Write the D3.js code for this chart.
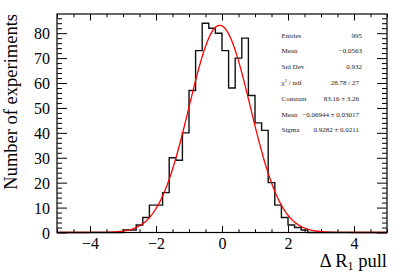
<!DOCTYPE html>
<html>
<head>
<meta charset="utf-8">
<script src="https://cdn.jsdelivr.net/npm/d3@7"></script>
<style>
  body { margin: 0; background: #fff; }
</style>
</head>
<body>
<script>
// histogram: 50 bins of width 0.2 between -5 and 5
var binLow = -5, binWidth = 0.2;
var counts = [0,0,0,0,0, 0,0,0,0,0,
              1,1,3,6,11, 11,16,30,29,40,
              57,73,84,82,80, 73,58,70,78,55,
              44,41,20,11,6, 3,2,1,0,0,
              0,0,0,0,0, 0,0,0,0,0];

// gaussian fit parameters (from the stats box)
var fitConstant = 83.16, fitMean = -0.06944, fitSigma = 0.9282;

var xMajor = [-4, -2, 0, 2, 4];
var yMajor = [0, 10, 20, 30, 40, 50, 60, 70, 80];

var statLabels = ["Entries", "Mean", "Std Dev", "chi", "Constant", "Mean", "Sigma"];
var statValues = ["995", "\u22120.0563", "0.932", "28.78 / 27", "83.16 \u00b1 3.26",
                  "\u22120.06944 \u00b1 0.03017", "0.9282 \u00b1 0.0211"];

var W = 407, H = 277;
var frame = {left: 57, right: 387, top: 14, bottom: 232.5};
var serif = "'Liberation Serif', 'Times New Roman', Times, 'DejaVu Serif', serif";

var svg = d3.select("body").append("svg")
  .attr("width", W).attr("height", H)
  .attr("font-family", serif)
  .style("font-family", serif);

var x = d3.scaleLinear().domain([-5, 5]).range([frame.left, frame.right]);
var y = d3.scaleLinear().domain([0, 87.7]).range([frame.bottom, frame.top]);

var fmt = function(d){ return d < 0 ? "\u2212" + Math.abs(d) : String(d); };

// minor ticks
var xMinor = d3.range(-5, 5.001, 0.5).filter(function(d){ return d % 2 !== 0; });
var yMinor = d3.range(0, 87, 2).filter(function(d){ return d % 10 !== 0; });

function tickAxis(axis, transform) {
  var g = svg.append("g").attr("transform", transform).call(axis);
  g.attr("font-family", null);
  g.select(".domain").remove();
  g.selectAll("line").attr("stroke", "#000").attr("stroke-width", 1);
  return g;
}

// bottom
var gx = tickAxis(d3.axisBottom(x).tickValues(xMajor).tickSize(-6.5).tickFormat(fmt),
  "translate(0," + frame.bottom + ")");
gx.selectAll("text").attr("y", 16.5).attr("dy", null)
  .attr("font-size", 16).attr("fill", "#000");
tickAxis(d3.axisBottom(x).tickValues(xMinor).tickSize(-3.3).tickFormat(""),
  "translate(0," + frame.bottom + ")");
// top
tickAxis(d3.axisTop(x).tickValues(xMajor).tickSize(-6.5).tickFormat(""),
  "translate(0," + frame.top + ")");
tickAxis(d3.axisTop(x).tickValues(xMinor).tickSize(-3.3).tickFormat(""),
  "translate(0," + frame.top + ")");
// left
var gy = tickAxis(d3.axisLeft(y).tickValues(yMajor).tickSize(-10).tickFormat(fmt),
  "translate(" + frame.left + ",0)");
gy.selectAll("text").attr("x", -7).attr("dy", "0.35em")
  .attr("font-size", 16).attr("fill", "#000");
tickAxis(d3.axisLeft(y).tickValues(yMinor).tickSize(-5).tickFormat(""),
  "translate(" + frame.left + ",0)");
// right
tickAxis(d3.axisRight(y).tickValues(yMajor).tickSize(-10).tickFormat(""),
  "translate(" + frame.right + ",0)");
tickAxis(d3.axisRight(y).tickValues(yMinor).tickSize(-5).tickFormat(""),
  "translate(" + frame.right + ",0)");

// histogram outline
var steps = [];
counts.forEach(function(c, i) {
  steps.push([binLow + i * binWidth, c]);
  steps.push([binLow + (i + 1) * binWidth, c]);
});
svg.append("path")
  .datum(steps)
  .attr("fill", "none")
  .attr("stroke", "#111")
  .attr("stroke-width", 1.4)
  .attr("d", d3.line().x(function(d){ return x(d[0]); }).y(function(d){ return y(d[1]); }));

// fit curve
var fitX = d3.range(-5, 5.0001, 0.05);
svg.append("path")
  .datum(fitX)
  .attr("fill", "none")
  .attr("stroke", "#ff0000")
  .attr("stroke-width", 1.3)
  .attr("d", d3.line()
    .x(function(d){ return x(d); })
    .y(function(d){ return y(fitConstant * Math.exp(-0.5 * Math.pow((d - fitMean) / fitSigma, 2))); }));

// frame
svg.append("rect")
  .attr("x", frame.left).attr("y", frame.top)
  .attr("width", frame.right - frame.left).attr("height", frame.bottom - frame.top)
  .attr("fill", "none").attr("stroke", "#000").attr("stroke-width", 1.2);

// axis titles
var xt = svg.append("text")
  .attr("x", frame.right).attr("y", 267)
  .attr("text-anchor", "end").attr("font-size", 18.5).attr("fill", "#000");
xt.append("tspan").text("\u0394 R");
xt.append("tspan").attr("dy", 3).attr("font-size", 12).text("1");
xt.append("tspan").attr("dy", -3).text(" pull");

svg.append("text")
  .attr("transform", "translate(17," + frame.top + ") rotate(-90)")
  .attr("text-anchor", "end").attr("font-size", 18.5).attr("fill", "#000")
  .text("Number of experiments");

// stats box
var stats = svg.append("g").attr("font-size", 7).attr("fill", "#222");
statLabels.forEach(function(lab, i) {
  var yy = 37.5 + i * 15.8;
  var t = stats.append("text").attr("x", 281.5).attr("y", yy);
  if (lab === "chi") {
    t.append("tspan").text("\u03c7");
    t.append("tspan").attr("dy", -2.5).attr("font-size", 5).text("2");
    t.append("tspan").attr("dy", 2.5).text(" / ndf");
  } else {
    t.text(lab);
  }
  stats.append("text")
    .attr("x", i < 3 ? 362 : 359).attr("y", yy)
    .attr("text-anchor", "end")
    .text(statValues[i]);
});
</script>
</body>
</html>
